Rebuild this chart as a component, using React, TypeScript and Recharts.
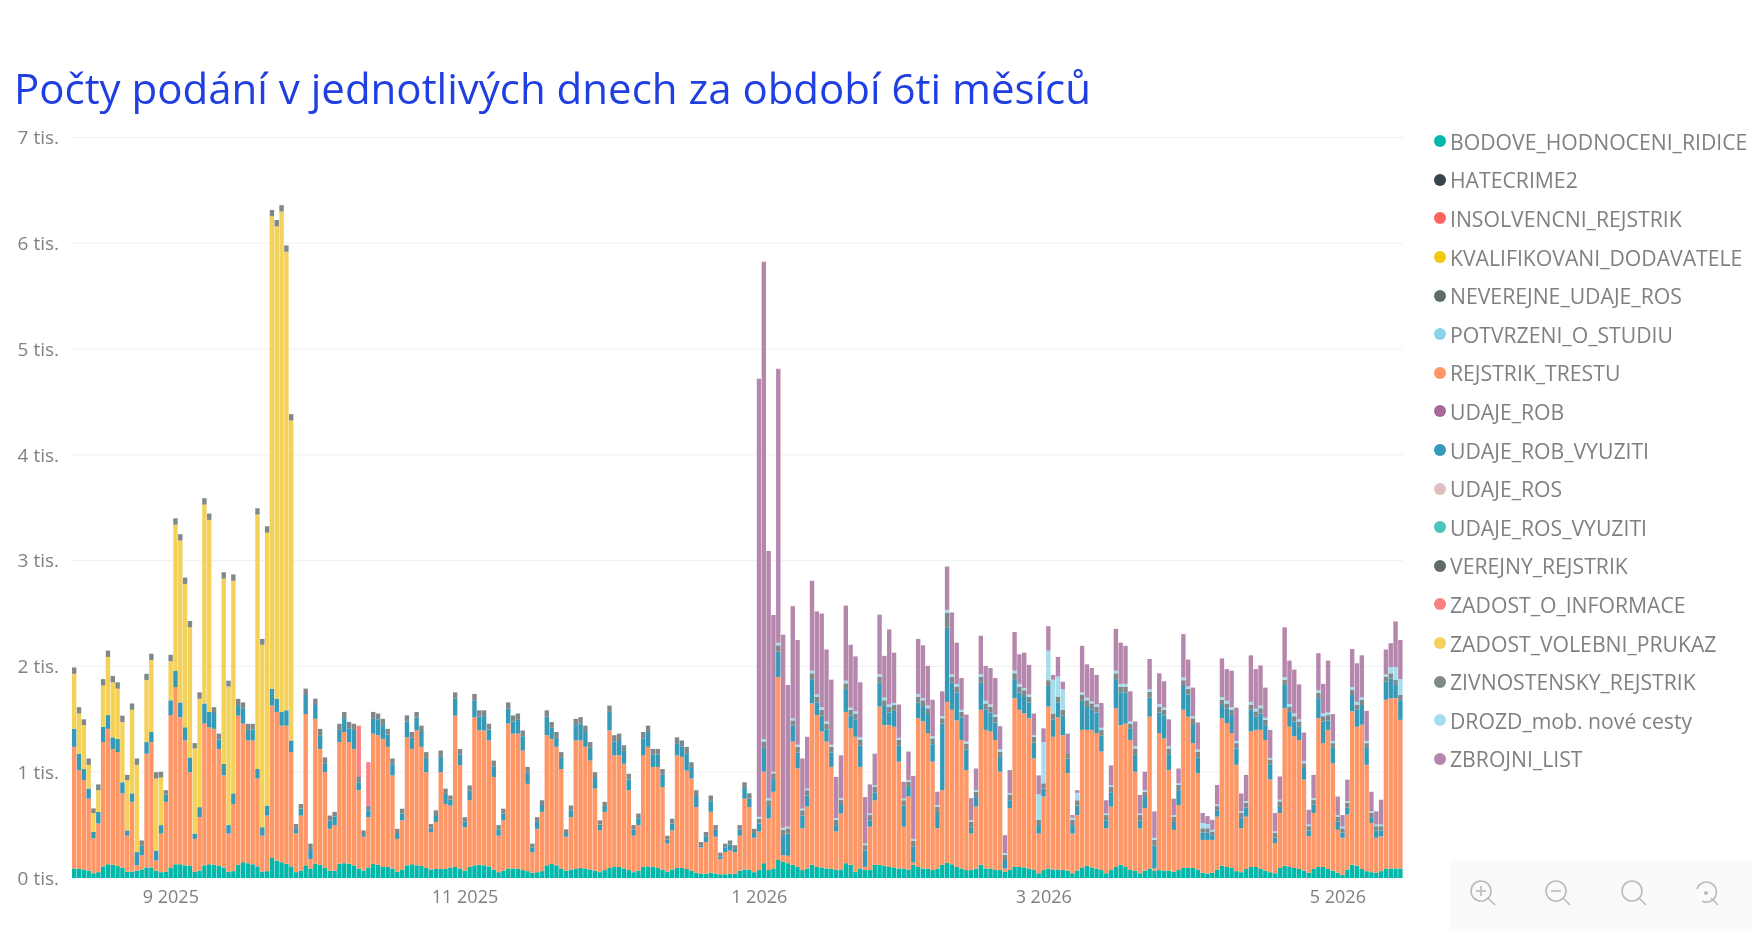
import { BarChart, Bar, XAxis, YAxis, CartesianGrid } from "recharts";

const seriesNames = [
  "BODOVE_HODNOCENI_RIDICE",
  "HATECRIME2",
  "INSOLVENCNI_REJSTRIK",
  "KVALIFIKOVANI_DODAVATELE",
  "NEVEREJNE_UDAJE_ROS",
  "POTVRZENI_O_STUDIU",
  "REJSTRIK_TRESTU",
  "UDAJE_ROB",
  "UDAJE_ROB_VYUZITI",
  "UDAJE_ROS",
  "UDAJE_ROS_VYUZITI",
  "VEREJNY_REJSTRIK",
  "ZADOST_O_INFORMACE",
  "ZADOST_VOLEBNI_PRUKAZ",
  "ZIVNOSTENSKY_REJSTRIK",
  "DROZD_mob. nové cesty",
  "ZBROJNI_LIST",
];

const seriesColors = [
  "#01b8aa", "#374649", "#fd625e", "#f2c80f", "#5f6b6d", "#8ad4eb", "#fe9666", "#a66999", "#3599b8",
  "#dfbfbf", "#4ac5bb", "#5f6b6d", "#fb8281", "#f4d25a", "#7f898a", "#a4ddee", "#b687ac",
];

const yTicks = [0, 1000, 2000, 3000, 4000, 5000, 6000, 7000];
const xTickDays = ["2025-09-01", "2025-11-01", "2026-01-01", "2026-03-01", "2026-05-01"];
const xTickLabels = ["9 2025", "11 2025", "1 2026", "3 2026", "5 2026"];

// daily values, first day 2025-08-12
const bodove = [
  90, 85, 80, 70, 45, 55, 110, 130, 125, 115,
  95, 60, 60, 70, 80, 100, 100, 70, 55, 60,
  100, 130, 130, 120, 115, 60, 70, 120, 130, 125,
  115, 100, 60, 65, 125, 150, 140, 130, 110, 60,
  65, 190, 165, 150, 135, 110, 55, 70, 120, 90,
  135, 125, 100, 70, 70, 135, 140, 135, 120, 90,
  70, 100, 135, 125, 105, 105, 90, 60, 80, 120,
  130, 120, 115, 95, 80, 85, 85, 85, 100, 105,
  90, 70, 105, 120, 125, 120, 110, 80, 55, 70,
  90, 90, 90, 75, 65, 50, 55, 65, 120, 135,
  120, 90, 70, 80, 85, 95, 90, 80, 70, 55,
  75, 95, 105, 105, 90, 75, 55, 70, 105, 110,
  105, 95, 80, 60, 80, 95, 95, 85, 70, 50,
  40, 40, 50, 40, 35, 35, 40, 40, 70, 80,
  80, 55, 75, 140, 75, 90, 170, 155, 140, 125,
  105, 75, 90, 125, 105, 100, 90, 90, 75, 80,
  140, 125, 60, 90, 75, 75, 125, 125, 115, 105,
  100, 90, 90, 80, 125, 105, 90, 90, 75, 90,
  125, 145, 130, 105, 90, 75, 75, 90, 125, 90,
  90, 75, 75, 60, 75, 105, 105, 100, 90, 75,
  45, 75, 90, 80, 80, 75, 70, 45, 70, 100,
  115, 100, 90, 75, 45, 75, 105, 125, 105, 75,
  70, 45, 70, 90, 70, 75, 70, 70, 60, 75,
  100, 95, 95, 80, 50, 40, 50, 80, 115, 105,
  95, 65, 55, 85, 105, 105, 85, 70, 55, 45,
  95, 115, 105, 95, 85, 70, 50, 85, 105, 105,
  85, 70, 50, 30, 80, 125, 115, 85, 65, 55,
  50, 65, 90, 90, 90, 90,
];

const rejstrik = [
  1150, 935, 845, 680, 330, 460, 1175, 1280, 1095, 1075,
  705, 340, 660, 50, 135, 1075, 1185, 95, 365, 660,
  1440, 1675, 1390, 1180, 885, 310, 505, 1340, 1295, 1285,
  1105, 870, 360, 635, 1410, 1310, 1160, 1170, 830, 340,
  525, 1440, 1405, 1290, 1305, 1080, 365, 520, 1430, 90,
  1370, 1095, 900, 395, 430, 1150, 1240, 1150, 1100, 740,
  320, 475, 1230, 1225, 1210, 1135, 880, 310, 465, 1210,
  1090, 1275, 1125, 905, 355, 445, 915, 615, 585, 1430,
  975, 410, 630, 1400, 1270, 1275, 1190, 875, 345, 475,
  1370, 1275, 1275, 1130, 825, 195, 410, 560, 1230, 1180,
  1120, 940, 320, 495, 1215, 1205, 1150, 1030, 775, 395,
  550, 1300, 1055, 1055, 990, 755, 345, 430, 1055, 1130,
  945, 955, 780, 265, 370, 1065, 1050, 930, 870, 620,
  250, 300, 575, 350, 145, 210, 220, 205, 330, 670,
  590, 325, 365, 865, 490, 725, 1730, 60, 70, 1165,
  930, 395, 585, 1525, 1435, 1285, 1200, 960, 365, 530,
  1430, 1290, 1275, 960, 30, 410, 610, 1495, 1330, 1340,
  1330, 1010, 395, 690, 20, 1405, 1390, 1280, 1025, 380,
  705, 1520, 1460, 1385, 1215, 945, 345, 585, 1465, 1310,
  1295, 1230, 930, 30, 585, 1595, 1485, 1455, 1420, 1055,
  375, 695, 1530, 1255, 1440, 1275, 920, 375, 525, 1300,
  1285, 1300, 1280, 1120, 425, 600, 1500, 1320, 1355, 1230,
  935, 425, 590, 1435, 20, 1295, 1250, 950, 395, 615,
  1490, 1430, 1180, 910, 310, 320, 310, 500, 1395, 1360,
  1275, 1005, 415, 495, 1280, 1295, 1315, 1235, 875, 285,
  520, 1490, 1325, 1245, 1220, 860, 345, 530, 1405, 1170,
  1315, 1015, 405, 350, 520, 1450, 1315, 1365, 1005, 465,
  330, 330, 1595, 1610, 1610, 1405,
];

const robVyuziti = [
  170, 155, 105, 95, 63, 110, 145, 130, 110, 125,
  105, 50, 80, 125, 90, 110, 95, 95, 80, 70,
  140, 155, 140, 125, 140, 50, 95, 190, 145, 150,
  90, 110, 80, 100, 100, 145, 100, 105, 90, 80,
  95, 160, 125, 130, 145, 110, 50, 65, 180, 85,
  130, 130, 85, 80, 80, 115, 130, 130, 180, 75,
  25, 65, 145, 145, 130, 115, 105, 55, 65, 150,
  105, 120, 140, 135, 40, 65, 145, 95, 55, 160,
  100, 55, 90, 160, 130, 135, 103, 100, 60, 65,
  140, 115, 130, 135, 105, 45, 65, 65, 175, 105,
  85, 105, 35, 65, 145, 160, 140, 120, 100, 55,
  55, 175, 130, 145, 120, 100, 60, 65, 160, 140,
  115, 115, 115, 40, 65, 115, 100, 165, 100, 105,
  20, 55, 100, 65, 25, 45, 55, 30, 60, 100,
  80, 45, 75, 225, 115, 120, 240, 190, 210, 150,
  150, 120, 105, 230, 120, 150, 115, 135, 60, 80,
  215, 120, 165, 200, 155, 60, 75, 225, 180, 120,
  150, 150, 200, 90, 155, 150, 145, 180, 165, 155,
  630, 700, 255, 265, 210, 195, 60, 90, 255, 195,
  180, 165, 140, 80, 75, 180, 165, 165, 150, 150,
  80, 75, 195, 165, 140, 185, 140, 80, 90, 275,
  225, 195, 195, 150, 75, 135, 275, 310, 295, 105,
  165, 75, 105, 180, 215, 195, 215, 150, 75, 140,
  225, 210, 180, 150, 70, 70, 45, 60, 125, 135,
  170, 155, 100, 85, 205, 125, 155, 140, 145, 55,
  65, 220, 140, 140, 125, 110, 55, 80, 190, 205,
  90, 145, 80, 50, 65, 155, 160, 185, 160, 55,
  70, 55, 170, 185, 125, 185,
];

const zivnostensky = [
  60, 60, 55, 60, 45, 55, 60, 60, 60, 60,
  60, 50, 60, 60, 50, 60, 60, 60, 55, 40,
  60, 60, 60, 60, 60, 50, 60, 60, 60, 55,
  55, 60, 55, 60, 58, 55, 58, 53, 60, 55,
  60, 60, 60, 60, 60, 60, 40, 45, 60, 60,
  60, 60, 55, 45, 45, 58, 60, 60, 58, 50,
  35, 45, 60, 60, 60, 55, 55, 40, 45, 57,
  55, 55, 60, 55, 35, 45, 60, 50, 40, 60,
  55, 40, 50, 60, 60, 55, 55, 55, 40, 45,
  60, 57, 60, 55, 55, 35, 45, 45, 60, 55,
  55, 55, 35, 45, 60, 60, 60, 55, 55, 40,
  40, 60, 60, 60, 55, 55, 40, 45, 60, 60,
  55, 55, 55, 35, 45, 55, 55, 60, 55, 55,
  30, 40, 55, 45, 35, 35, 40, 35, 40, 55,
  50, 40, 45, 60, 55, 55, 60, 50, 50, 50,
  55, 50, 50, 55, 55, 55, 55, 55, 50, 50,
  55, 55, 55, 55, 50, 50, 50, 55, 55, 55,
  55, 55, 50, 50, 50, 55, 55, 55, 55, 50,
  50, 140, 55, 55, 55, 55, 50, 50, 55, 55,
  55, 55, 50, 50, 50, 55, 55, 55, 55, 55,
  50, 50, 55, 55, 55, 55, 50, 50, 50, 55,
  55, 55, 55, 55, 50, 50, 55, 55, 55, 50,
  55, 50, 50, 55, 55, 55, 55, 55, 50, 50,
  55, 55, 55, 55, 40, 40, 35, 40, 50, 50,
  50, 50, 45, 45, 50, 50, 50, 50, 45, 40,
  45, 50, 50, 50, 50, 45, 40, 45, 50, 50,
  50, 45, 45, 40, 45, 50, 50, 50, 45, 40,
  40, 40, 50, 50, 50, 50,
];

// volebni prukaz only runs in the first weeks
const volebni = [
  520, 380, 415, 225, 175, 205, 390, 550, 520, 475,
  570, 475, 790, 825, 0, 585, 680, 680, 450, 0,
  370, 1380, 1530, 1355, 1230, 805, 1025, 1880, 1815, 0,
  0, 1750, 1310, 2010, 0, 0, 0, 0, 2405, 1725,
  2580, 4465, 4465, 4730, 4335, 3025,
];

// zbrojni list and drozd start on 2026-01-01
const firstGunDay = 142;
const zbrojni = [
  4140, 4510, 2335, 1480, 2590, 1825, 1340, 1060,
  990, 475, 490, 850, 785, 885, 680, 615, 390, 405,
  710, 595, 520, 520, 440, 275, 300, 565, 395, 710,
  475, 315, 160, 270, 595, 520, 500, 375, 345, 125,
  235, 410, 585, 390, 300, 255, 210, 205, 365, 330,
  345, 345, 220, 170, 220, 365, 280, 335, 280, 205,
  180, 130, 230, 45, 185, 70, 185, 25, 25, 440,
  315, 315, 280, 235, 125, 190, 395, 390, 360, 285,
  235, 175, 175, 285, 250, 290, 250, 255, 155, 140,
  410, 255, 270, 255, 95, 75, 95, 185, 365, 300,
  345, 315, 170, 250, 440, 375, 380, 285, 265, 175,
  220, 470, 410, 415, 330, 270, 140, 220, 350, 280,
  490, 255, 175, 110, 205, 360, 365, 395, 285, 185,
  125, 235, 235, 225, 430, 370,
];
const drozd = [
  20, 25, 20, 15, 25, 20, 15, 20,
  20, 15, 15, 25, 20, 25, 20, 20, 15, 15,
  25, 20, 20, 25, 15, 15, 15, 25, 25, 20,
  20, 20, 15, 15, 20, 25, 20, 25, 20, 15,
  20, 30, 25, 25, 20, 20, 15, 15, 25, 25,
  20, 20, 20, 15, 15, 25, 25, 20, 20, 15,
  240, 390, 280, 320, 190, 195, 0, 20, 70, 25,
  25, 20, 20, 20, 15, 15, 25, 25, 25, 20,
  20, 15, 15, 25, 20, 25, 20, 20, 15, 15,
  25, 20, 20, 20, 50, 40, 15, 15, 25, 25,
  25, 20, 15, 15, 25, 25, 25, 20, 15, 15,
  15, 25, 25, 25, 20, 20, 15, 15, 25, 25,
  25, 20, 15, 15, 15, 25, 25, 25, 20, 15,
  15, 15, 20, 60, 120, 150,
];

const informaceDays = [59, 61];
const informaceValues = [485, 410];

const isoDay = (i: number) => new Date(Date.UTC(2025, 7, 12 + i)).toISOString().slice(0, 10);

const chartData = bodove.map((v, i) => {
  const row: Record<string, string | number> = {
    day: isoDay(i),
    BODOVE_HODNOCENI_RIDICE: v,
    REJSTRIK_TRESTU: rejstrik[i],
    UDAJE_ROB_VYUZITI: robVyuziti[i],
    ZIVNOSTENSKY_REJSTRIK: zivnostensky[i],
  };
  if (volebni[i]) row.ZADOST_VOLEBNI_PRUKAZ = volebni[i];
  if (i >= firstGunDay) {
    row.ZBROJNI_LIST = zbrojni[i - firstGunDay];
    row["DROZD_mob. nové cesty"] = drozd[i - firstGunDay];
  }
  const info = informaceDays.indexOf(i);
  if (info >= 0) row.ZADOST_O_INFORMACE = informaceValues[info];
  return row;
});

// informace sits above the grey part in the picture, so it goes after it in the stack
const stackOrder = seriesNames
  .filter((n) => n !== "ZADOST_O_INFORMACE")
  .flatMap((n) => (n === "ZIVNOSTENSKY_REJSTRIK" ? [n, "ZADOST_O_INFORMACE"] : [n]));

const textGray = "#808080";
const fontFamily = "'Open Sans', sans-serif";

function ToolbarIcon({ left, mark }: { left: number; mark: "plus" | "minus" | "none" | "reset" }) {
  return (
    <svg width="32" height="32" viewBox="0 0 32 32" style={{ position: "absolute", left, top: 877 }}>
      {mark === "reset" ? (
        <path d="M7 12 A10 10 0 1 1 12 24" fill="none" stroke="#bbb" strokeWidth="1.6" />
      ) : (
        <circle cx="14" cy="14" r="10" fill="none" stroke="#bbb" strokeWidth="1.6" />
      )}
      <line x1="21" y1="21" x2="28" y2="28" stroke="#bbb" strokeWidth="1.6" />
      {mark === "plus" && <line x1="14" y1="9" x2="14" y2="19" stroke="#bbb" strokeWidth="1.6" />}
      {(mark === "plus" || mark === "minus") && (
        <line x1="9" y1="14" x2="19" y2="14" stroke="#bbb" strokeWidth="1.6" />
      )}
      {mark === "reset" && <circle cx="16" cy="16" r="2" fill="#bbb" />}
    </svg>
  );
}

export default function App() {
  return (
    <div
      style={{
        position: "absolute",
        left: 0,
        top: 0,
        width: 1752,
        height: 931,
        background: "#fff",
        overflow: "hidden",
        fontFamily,
        filter: "blur(0.7px)",
      }}
    >
      <div
        style={{
          position: "absolute",
          left: 14,
          top: 58,
          fontSize: 42,
          lineHeight: "60px",
          color: "#1f3fe0",
          whiteSpace: "nowrap",
        }}
      >
        Počty podání v jednotlivých dnech za období 6ti měsíců
      </div>

      <BarChart
        width={1752}
        height={931}
        data={chartData}
        margin={{ top: 137.5, right: 349, bottom: 0, left: 0 }}
        barSize={4.4}
        style={{ position: "absolute", left: 0, top: 0 }}
      >
        <CartesianGrid vertical={false} stroke="#f0f0f0" />
        <XAxis
          dataKey="day"
          ticks={xTickDays}
          interval={0}
          tickFormatter={(d) => xTickLabels[xTickDays.indexOf(d)]}
          tick={{ fill: textGray, fontSize: 18 }}
          axisLine={false}
          tickLine={false}
          tickSize={0}
          tickMargin={12}
          height={53}
        />
        <YAxis
          domain={[0, 7000]}
          ticks={yTicks}
          tickFormatter={(v) => `${v / 1000} tis.`}
          tick={{ fill: textGray, fontSize: 19 }}
          axisLine={false}
          tickLine={false}
          tickSize={0}
          tickMargin={13}
          width={72}
        />
        {stackOrder.map((name) => (
          <Bar
            key={name}
            dataKey={name}
            stackId="podani"
            fill={seriesColors[seriesNames.indexOf(name)]}
            isAnimationActive={false}
          />
        ))}
      </BarChart>

      <div style={{ position: "absolute", left: 1434, top: 122 }}>
        {seriesNames.map((name, i) => (
          <div
            key={name}
            style={{ display: "flex", alignItems: "center", height: 38.6, whiteSpace: "nowrap", color: textGray, fontSize: 21.2 }}
          >
            <span
              style={{
                width: 12,
                height: 12,
                borderRadius: 6,
                background: seriesColors[i],
                marginRight: 4,
              }}
            />
            {name}
          </div>
        ))}
      </div>

      <div style={{ position: "absolute", left: 1450, top: 860, width: 302, height: 71, background: "#fafafa" }} />
      <ToolbarIcon left={1467} mark="plus" />
      <ToolbarIcon left={1542} mark="minus" />
      <ToolbarIcon left={1618} mark="none" />
      <ToolbarIcon left={1690} mark="reset" />
    </div>
  );
}
